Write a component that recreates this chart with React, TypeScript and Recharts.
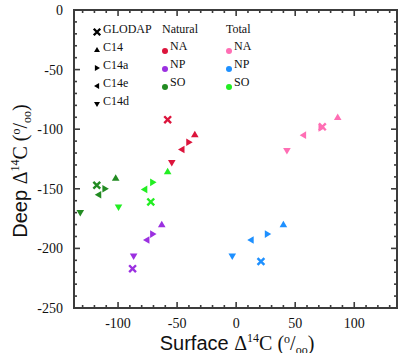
import { ScatterChart, Scatter, XAxis, YAxis } from 'recharts';

// marker order in every series: GLODAP, C14, C14a, C14e, C14d
const markerNames = ['GLODAP', 'C14', 'C14a', 'C14e', 'C14d'];
const markerShapes = ['x', 'up', 'right', 'left', 'down'];

const regions = ['NA', 'NP', 'SO'];

const naturalNA_x = [-58, -35, -40, -46, -54.5];
const naturalNA_y = [-92, -104.5, -111, -117, -128];
const naturalNP_x = [-87.7, -63, -70.6, -75.7, -86.8];
const naturalNP_y = [-217, -180, -188, -193, -206.5];
const naturalSO_x = [-118, -102, -111, -116.5, -132];
const naturalSO_y = [-147, -141, -150, -155, -170];

const totalNA_x = [73, 86, 72, 57, 43];
const totalNA_y = [-98, -90, -99, -105, -118];
const totalNP_x = [21, 40, 26.5, 12.6, -3.3];
const totalNP_y = [-211, -180, -188, -193, -206.5];
const totalSO_x = [-72.3, -58, -70.6, -77.5, -99.6];
const totalSO_y = [-161, -135.5, -144.6, -150.5, -165.5];

const xMajor = [-100, -50, 0, 50, 100];
const yMajor = [-250, -200, -150, -100, -50, 0];
const xMinor = [-130, -120, -110, -90, -80, -70, -60, -40, -30, -20, -10, 10, 20, 30, 40, 60, 70, 80, 90, 110, 120, 130];
const yMinor = [-240, -230, -220, -210, -190, -180, -170, -160, -140, -130, -120, -110, -90, -80, -70, -60, -40, -30, -20, -10];

const xDomain = [-137.3, 136.2];
const yDomain = [-250, 0];

const naturalColors = ['#dc143c', '#9b30e0', '#228b22'];
const totalColors = ['#ff6eb4', '#1e90ff', '#22ee22'];

const axisColor = '#3c3c3c';
const serif = '"Liberation Serif", "DejaVu Serif", serif';
const sans = '"Liberation Sans", Arial, sans-serif';

// plot box, set through the chart margins below
const W = 399;
const H = 353;
const box = { left: 74, right: 397, top: 10, bottom: 308 };

// GLODAP drawn last so it sits on top
const toPoints = (xs: number[], ys: number[]) =>
  xs.map((x, i) => ({ x, y: ys[i], m: i })).reverse();

const series = [
  { name: 'natNA', color: naturalColors[0], data: toPoints(naturalNA_x, naturalNA_y) },
  { name: 'natNP', color: naturalColors[1], data: toPoints(naturalNP_x, naturalNP_y) },
  { name: 'natSO', color: naturalColors[2], data: toPoints(naturalSO_x, naturalSO_y) },
  { name: 'totNA', color: totalColors[0], data: toPoints(totalNA_x, totalNA_y) },
  { name: 'totNP', color: totalColors[1], data: toPoints(totalNP_x, totalNP_y) },
  { name: 'totSO', color: totalColors[2], data: toPoints(totalSO_x, totalSO_y) },
];

function Glyph({ kind, cx, cy, color, s = 3.8 }: { kind: string; cx: number; cy: number; color: string; s?: number }) {
  if (kind === 'x') {
    const d = s * 0.9;
    return (
      <path
        d={`M${cx - d},${cy - d}L${cx + d},${cy + d}M${cx - d},${cy + d}L${cx + d},${cy - d}`}
        stroke={color}
        strokeWidth={2.4}
      />
    );
  }
  let pts = '';
  if (kind === 'up') pts = `${cx},${cy - s} ${cx - s},${cy + s * 0.7} ${cx + s},${cy + s * 0.7}`;
  if (kind === 'down') pts = `${cx},${cy + s} ${cx - s},${cy - s * 0.7} ${cx + s},${cy - s * 0.7}`;
  if (kind === 'right') pts = `${cx + s},${cy} ${cx - s * 0.7},${cy - s} ${cx - s * 0.7},${cy + s}`;
  if (kind === 'left') pts = `${cx - s},${cy} ${cx + s * 0.7},${cy - s} ${cx + s * 0.7},${cy + s}`;
  return <polygon points={pts} fill={color} />;
}

// same linear mapping the chart uses for its axes, for the inward tick marks
const sx = (v: number) => box.left + ((v - xDomain[0]) / (xDomain[1] - xDomain[0])) * (box.right - box.left);
const sy = (v: number) => box.bottom - ((v - yDomain[0]) / (yDomain[1] - yDomain[0])) * (box.bottom - box.top);

// frame and tick marks as small filled rects
function frameRects() {
  const r: { x: number; y: number; w: number; h: number }[] = [];
  const bw = box.right - box.left;
  const bh = box.bottom - box.top;
  r.push({ x: box.left - 1, y: box.top - 1, w: bw + 2, h: 2 });
  r.push({ x: box.left - 1, y: box.bottom - 1, w: bw + 2, h: 2 });
  r.push({ x: box.left - 1, y: box.top - 1, w: 2, h: bh + 2 });
  r.push({ x: box.right - 1, y: box.top - 1, w: 2, h: bh + 2 });
  const xt = (v: number, len: number) => {
    const x = sx(v);
    r.push({ x: x - 0.8, y: box.bottom - len, w: 1.6, h: len });
    r.push({ x: x - 0.8, y: box.top, w: 1.6, h: len });
  };
  const yt = (v: number, len: number) => {
    const y = sy(v);
    r.push({ x: box.left, y: y - 0.8, w: len, h: 1.6 });
    r.push({ x: box.right - len, y: y - 0.8, w: len, h: 1.6 });
  };
  xMajor.forEach((v) => xt(v, 6));
  xMinor.forEach((v) => xt(v, 3));
  yMajor.forEach((v) => yt(v, 6));
  yMinor.forEach((v) => yt(v, 3));
  return r;
}

// Δ14C (°/oo) part of both axis titles
const DeltaUnit = () => (
  <>
    <tspan fontFamily={serif}>Δ</tspan>
    <tspan fontFamily={serif} fontSize={12} dy={-8}>14</tspan>
    <tspan fontFamily={serif} dy={8}>C (</tspan>
    <tspan fontFamily={serif} fontSize={12} dy={-7}>o</tspan>
    <tspan fontFamily={serif} dy={7}>/</tspan>
    <tspan fontFamily={serif} fontSize={12} dy={4}>oo</tspan>
    <tspan fontFamily={serif} dy={-4}>)</tspan>
  </>
);

// frame, tick marks, titles and legend, laid over the chart
const Overlay = () => {
  const rowY = [32, 50, 68, 86, 104];
  return (
    <svg width={W} height={H} style={{ position: 'absolute', left: 0, top: 0, pointerEvents: 'none' }}>
      {frameRects().map((q, i) => (
        <rect key={i} x={q.x} y={q.y} width={q.w} height={q.h} fill={axisColor} />
      ))}

      <text x={237} y={350} textAnchor="middle" fontSize={20} fill="#111">
        <tspan fontFamily={sans}>Surface </tspan>
        <DeltaUnit />
      </text>
      <text transform="translate(27,171) rotate(-90)" textAnchor="middle" fontSize={20} fill="#111">
        <tspan fontFamily={sans}>Deep </tspan>
        <DeltaUnit />
      </text>

      {markerNames.map((n, i) => (
        <g key={n}>
          <Glyph kind={markerShapes[i]} cx={97} cy={rowY[i]} color="#000" s={i === 0 ? 3.6 : 3} />
          <text x={103} y={rowY[i] + 1} fontSize={12} fontFamily={serif} fill="#111">{n}</text>
        </g>
      ))}

      <text x={162} y={33} fontSize={12} fontFamily={serif} fill="#111">Natural</text>
      <text x={226} y={33} fontSize={12} fontFamily={serif} fill="#111">Total</text>
      {regions.map((r, i) => (
        <g key={r}>
          <circle cx={165} cy={rowY[i + 1] + 1} r={3} fill={naturalColors[i]} />
          <text x={170} y={rowY[i + 1]} fontSize={12} fontFamily={serif} fill="#111">{r}</text>
          <circle cx={229} cy={rowY[i + 1] + 1} r={3} fill={totalColors[i]} />
          <text x={234} y={rowY[i + 1]} fontSize={12} fontFamily={serif} fill="#111">{r}</text>
        </g>
      ))}
    </svg>
  );
};

const tickStyle = { fontSize: 14, fontFamily: serif, fill: '#111' };

export default function App() {
  return (
    <div style={{ position: 'absolute', left: 0, top: 0, width: W, height: H, background: '#fff' }}>
      <ScatterChart
        width={W}
        height={H}
        margin={{ top: box.top, right: W - box.right, left: 0, bottom: 0 }}
      >
        <XAxis
          type="number"
          dataKey="x"
          domain={xDomain}
          ticks={xMajor}
          interval={0}
          tickLine={false}
          tickMargin={4}
          tick={tickStyle}
          height={H - box.bottom}
          axisLine={false}
        />
        <YAxis
          type="number"
          dataKey="y"
          domain={yDomain}
          ticks={yMajor}
          interval={0}
          tickLine={false}
          tickMargin={5}
          tick={tickStyle}
          width={box.left}
          axisLine={false}
        />
        {series.map((s) => (
          <Scatter
            key={s.name}
            data={s.data}
            isAnimationActive={false}
            shape={(p: any) => <Glyph kind={markerShapes[p.payload.m]} cx={p.cx} cy={p.cy} color={s.color} />}
          />
        ))}
      </ScatterChart>
      <Overlay />
    </div>
  );
}
